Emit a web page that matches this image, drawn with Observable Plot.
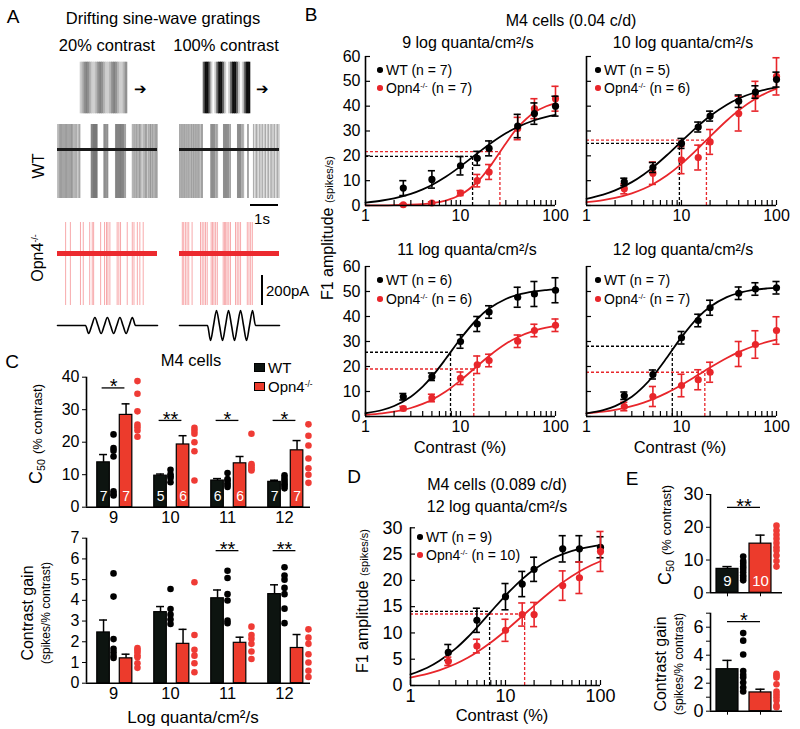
<!DOCTYPE html>
<html><head><meta charset="utf-8">
<script src="https://cdn.jsdelivr.net/npm/d3@7"></script>
<script src="https://cdn.jsdelivr.net/npm/@observablehq/plot@0.6"></script>
<style>
body{margin:0;background:#fff;}
#fig{position:relative;width:800px;height:729px;overflow:hidden;background:#fff;font-family:"Liberation Sans",Arial,Helvetica,sans-serif;color:#000;}
.abs{position:absolute;}
.t{position:absolute;white-space:nowrap;line-height:1;}
.sp{font-size:0.55em;vertical-align:0.6em;line-height:0;}
.sb{font-size:0.6em;vertical-align:-0.25em;line-height:0;}
</style></head>
<body><div id="fig"></div>
<script>
// ---------------- DATA ----------------
const contrasts = [2.5, 5, 10, 15, 20, 40, 60, 100];
const fitContrasts = [1, 1.5, 2, 3, 4, 5, 7, 10, 15, 20, 30, 40, 60, 80, 100];

// Panel B, 9 log quanta
const b9WtMean = [7, 10.5, 16, 19, 23, 32, 37, 40];
const b9WtSem = [3, 3.5, 3.7, 2.8, 3, 4.7, 4.3, 4];
const b9KoMean = [0.3, 1, 5, 10, 13.5, 31, 39, 43];
const b9KoSem = [0.3, 0.5, 1, 2.5, 3, 4.5, 4, 5];
const b9WtFit = [1.20, 2.01, 2.88, 4.69, 6.51, 8.28, 11.57, 15.76, 20.96, 24.57, 29.06, 31.63, 34.33, 35.69, 36.48];
const b9KoFit = [0.02, 0.06, 0.12, 0.30, 0.57, 0.95, 2.00, 4.30, 9.47, 15.2, 25.0, 31.36, 37.52, 39.98, 41.14];
// Panel B, 10 log quanta
const b10WtMean = [9.5, 15.3, 25, 31.6, 36, 42, 45.7, 50.7];
const b10WtSem = [1.5, 2, 2, 2, 2, 2.5, 2.5, 3];
const b10KoMean = [6.7, 13, 18.3, 19.3, 25.6, 37, 44, 52];
const b10KoSem = [2, 4.5, 5.5, 5, 5, 7, 6, 7.5];
const b10WtFit = [2.71, 4.38, 6.07, 9.40, 12.5, 15.34, 20.22, 25.83, 32.05, 36.02, 40.58, 43.07, 45.61, 46.87, 47.61];
const b10KoFit = [1.32, 2.16, 3.04, 4.89, 6.74, 8.58, 12.06, 16.75, 23.02, 27.77, 34.22, 38.31, 42.97, 45.50, 47.05];
// Panel B, 11 log quanta
const b11WtMean = [7.9, 15.9, 30, 37, 41.8, 47.7, 49, 50.5];
const b11WtSem = [1.3, 1.5, 2.7, 3, 2.5, 4, 5, 5];
const b11KoMean = [3.2, 7.4, 15.3, 20.7, 22.4, 30.1, 34.4, 36.5];
const b11KoSem = [0.8, 1.5, 2.5, 3.5, 2.5, 2.5, 2.5, 2.5];
const b11WtFit = [1.30, 2.60, 4.19, 7.92, 11.95, 15.93, 23.09, 31.11, 39.0, 43.16, 47.01, 48.67, 50.03, 50.57, 50.84];
const b11KoFit = [0.69, 1.26, 1.91, 3.40, 5.02, 6.69, 9.98, 14.44, 20.19, 24.22, 29.07, 31.71, 34.33, 35.54, 36.21];
// Panel B, 12 log quanta
const b12WtMean = [8.3, 16.8, 31.5, 38.4, 43.5, 49.3, 51, 51.5];
const b12WtSem = [1.5, 1.8, 2.5, 2.5, 3, 2.5, 2.5, 2.5];
const b12KoMean = [4, 8, 12.4, 14.7, 17.7, 25, 28.8, 34.4];
const b12KoSem = [1.7, 4, 4.5, 4, 4, 5, 5.5, 5.5];
const b12WtFit = [1.26, 2.54, 4.13, 7.90, 12.02, 16.11, 23.49, 31.73, 39.76, 43.94, 47.77, 49.40, 50.71, 51.23, 51.48];
const b12KoFit = [1.22, 1.94, 2.68, 4.16, 5.59, 6.95, 9.45, 12.63, 16.67, 19.58, 23.40, 25.75, 28.40, 29.84, 30.72];
// Panel D (0.089 c/d, 12 log)
const dWtMean = [6.3, 12.4, 16.9, 19.3, 22.1, 26, 26, 26.3];
const dWtSem = [1.5, 2.3, 2.5, 2.4, 2.3, 2.5, 2.5, 2];
const dKoMean = [4.6, 7.5, 10.5, 13.5, 13.5, 19, 20.5, 25.5];
const dKoSem = [0.8, 1.3, 2.1, 2.2, 2.3, 2.8, 3, 3.8];
const dWtFit = [2.10, 3.38, 4.65, 7.06, 9.18, 11.04, 14.01, 17.12, 20.25, 22.07, 24.01, 25.0, 25.97, 26.43, 26.69];
const dKoFit = [1.49, 2.20, 2.88, 4.14, 5.29, 6.34, 8.17, 10.42, 13.19, 15.20, 17.89, 19.62, 21.68, 22.87, 23.64];
// C50 markers (dashed lines) for panels [9, 10, 11, 12, D]
const c50Wt = [13.4, 9.5, 7.85, 8.0, 6.8];
const halfWt = [19.8, 25, 25.7, 28.1, 14.1];
const c50Ko = [26, 18.3, 13.8, 17.6, 15.9];
const halfKo = [21.7, 26.3, 19, 17.7, 13.6];
const nWtB = [7, 5, 6, 7, 9];
const nKoB = [7, 6, 6, 7, 10];

// Panel C
const lightLevels = [9, 10, 11, 12];
const c50WtMean = [13.8, 9.7, 8.2, 7.8];
const c50WtSem = [2.4, 0.5, 0.6, 0.5];
const c50KoMean = [28.4, 19.3, 13.5, 17.5];
const c50KoSem = [3.4, 2.7, 2.1, 3];
const c50WtCells = [[22.4, 18.2, 17.4, 15.6, 4.9, 4.1, 3.6], [11.5, 10.1, 9.5, 9.0, 7.7], [10.5, 8.7, 8.2, 7.4, 6.8, 6.2], [9.8, 9, 8.2, 7.5, 7, 6.5, 5.8]];
const c50KoCells = [[38.8, 34.9, 29.5, 25.4, 24.6, 23.6, 21.7], [24.4, 23.5, 22.6, 20, 17.2, 8.2], [22.6, 13.3, 12.8, 12.3, 11.7, 11.3], [25.5, 22, 19, 15, 12, 10, 7.5]];
const gainWtMean = [2.45, 3.43, 4.1, 4.3];
const gainWtSem = [0.6, 0.27, 0.4, 0.45];
const gainKoMean = [1.2, 1.9, 1.95, 1.7];
const gainKoSem = [0.2, 0.7, 0.27, 0.65];
const gainWtCells = [[5.3, 4.18, 2.13, 1.66, 1.5, 1.33, 1.22], [4.55, 3.58, 3.31, 3.07, 2.86], [5.43, 5.08, 4.3, 3.99, 3.02, 2.9], [5.6, 5.2, 5.0, 4.6, 4.3, 3.6, 2.9]];
const gainKoCells = [[1.7, 1.6, 1.5, 1.35, 1.25, 0.96, 0.74], [4.87, 2.33, 1.61, 1.33, 0.96, 0.53], [2.73, 2.33, 2.14, 1.9, 1.53, 1.17], [2.6, 2.2, 1.9, 1.4, 1.0, 0.6, 0.3]];
const nWtC = [7, 5, 6, 7];
const nKoC = [7, 6, 6, 7];
const c50Sig = ["*", "**", "*", "*"];
const c50SigY = [36.7, 26.7, 26.7, 26.7];
const gainSig = ["", "", "**", "**"];
const gainSigY = [6.4, 6.4, 6.4, 6.4];

// Panel E
const eGroups = [0, 1]; // WT, Opn4-/-
const eC50Mean = [7.3, 15];
const eC50Sem = [0.7, 2.6];
const eC50WtCells = [11.1, 9.7, 8.9, 8.0, 7.3, 6.3, 5.3, 4.6, 3.8];
const eC50KoCells = [20.5, 19, 17.7, 16.5, 15.2, 13.9, 12.9, 11.4, 9.7, 8.0];
const eGainMean = [3.0, 1.34];
const eGainSem = [0.63, 0.23];
const eGainWtCells = [5.58, 5.04, 4.05, 2.87, 2.6, 2.4, 2.05, 1.69, 1.41];
const eGainKoCells = [2.68, 2.55, 2.4, 1.93, 1.41, 1.2, 0.99, 0.76, 0.40, 0.28];
const eN = [9, 10];

// Panel A: spike times (s), stimulus and grating luminance
const wt20Spikes = [0.01,0.05,0.08,0.11,0.14,0.17,0.2,0.23,0.26,0.29,0.32,0.35,0.38,0.41,0.44,0.47,0.5,0.53,0.56,0.6,0.64,0.68,0.73,0.77,0.8,1.2,1.22,1.24,1.26,1.28,1.3,1.31,1.33,1.35,1.37,1.38,1.4,1.42,1.65,1.68,1.7,1.72,1.75,1.78,1.8,2.07,2.09,2.11,2.13,2.15,2.17,2.19,2.21,2.23,2.25,2.27,2.29,2.31,2.33,2.35,2.37,2.4,2.43,2.67,2.71,2.75,2.79,2.82,2.86,2.9,2.93,2.96,3.01,3.06,3.1,3.14,3.17,3.2,3.25,3.29,3.32,3.35,3.39,3.42,3.46,3.5,3.53,3.56];
const wt100Spikes = [0,0.04,0.07,0.11,0.14,0.18,0.21,0.25,0.29,0.32,0.36,0.4,0.43,0.47,0.5,0.54,0.57,0.61,0.64,0.68,0.71,0.76,0.79,0.82,1.11,1.14,1.16,1.18,1.21,1.23,1.25,1.29,1.32,1.36,1.57,1.59,1.61,1.64,1.66,1.68,1.71,1.73,1.75,1.79,1.82,2.07,2.09,2.11,2.14,2.16,2.18,2.21,2.25,2.29,2.43,2.46,2.64,2.7,2.75,2.8,2.86,2.91,2.96,3.02,3.07,3.13,3.18,3.24,3.29,3.34,3.39,3.45,3.5,3.55];
const ko20Spikes = [0.29,0.46,0.82,0.92,1.15,1.24,1.29,1.54,1.68,1.75,1.8,1.87,2.13,2.19,2.25,2.49,2.67,2.73,2.85,2.94,3.06];
const ko100Spikes = [0.1,0.15,0.21,0.27,0.33,0.45,0.75,0.81,0.87,0.93,0.99,1.13,1.18,1.23,1.29,1.35,1.56,1.61,1.65,1.7,1.76,1.82,2.0,2.06,2.12,2.18,2.42,2.48,2.54,2.6];
const stim20T = [0,1.0,1.112,1.223,1.335,1.446,1.558,1.67,1.781,1.893,2.004,2.116,2.228,2.339,2.451,2.562,2.674,2.786,3.57];
const stim20V = [0,0,-8,0,8,0,-8,0,8,0,-8,0,8,0,-8,0,8,0,0];
const stim100T = [0,1.0,1.107,1.214,1.321,1.429,1.536,1.643,1.75,1.857,1.964,2.071,2.179,2.286,2.393,2.5,2.607,2.714,3.57];
const stim100V = [0,0,-15,0,15,0,-15,0,15,0,-15,0,15,0,-15,0,15,0,0];
const grating20 = [206,179,145,130,145,179,206,206,179,145,130,145,179,206,206,179,145,130,145,179,206,206,179,145];
const grating100 = [100,15,15,100,205,253,205,100,15,15,100,205,253,205,100,15,15,100,205,253,205,100,15,15];

// ---------------- DRAWING ----------------
const RED = "#e8262b";
const BARRED = "#ec3b2c";
const BARBLK = "#0d1410";
const FONT = '"Liberation Sans", Arial, Helvetica, sans-serif';
const fig = document.getElementById("fig");
const baseStyle = {fontFamily: FONT, fontSize: "16px", overflow: "visible", background: "none", color: "#000"};

function put(node, left, top) {
  const d = document.createElement("div");
  d.className = "abs";
  d.style.left = left + "px"; d.style.top = top + "px";
  d.appendChild(node); fig.appendChild(d);
}
function text(html, x, y, size, {anchor = "middle", rotate = false, color = "#000", align = "center", lh = 1, weight = "normal"} = {}) {
  const d = document.createElement("div");
  d.className = "t";
  d.innerHTML = html;
  d.style.left = x + "px"; d.style.top = y + "px"; d.style.fontSize = size + "px"; d.style.color = color;
  d.style.textAlign = align; d.style.lineHeight = lh; d.style.fontWeight = weight;
  let tf = anchor === "middle" ? "translate(-50%,-50%)" : anchor === "start" ? "translate(0,-50%)" : "translate(-100%,-50%)";
  if (rotate) tf += " rotate(-90deg)";
  d.style.transform = tf;
  fig.appendChild(d);
}
function dotEl(x, y, r, color) {
  const d = document.createElement("div");
  Object.assign(d.style, {position: "absolute", left: (x - r) + "px", top: (y - r) + "px", width: 2 * r + "px", height: 2 * r + "px", borderRadius: "50%", background: color});
  fig.appendChild(d);
}

// ---- contrast response panels (B, D)
function contrastPlot(o) {
  const plotW = o.width - o.ml - o.mr, plotH = o.height - o.mt - o.mb;
  const minor = [1,2,3,4,5,6,7,8,9,10,20,30,40,50,60,70,80,90,100];
  const series = (mean, sem, fit, color) => [
    Plot.line(fitContrasts, {x: d => d, y: (d, i) => fit[i], stroke: color, strokeWidth: 1.8, curve: "catmull-rom"}),
    Plot.ruleX(contrasts, {x: d => d, y1: (d, i) => Math.max(0, mean[i] - sem[i]), y2: (d, i) => mean[i] + sem[i], stroke: color, strokeWidth: 1.6}),
    Plot.ruleY(contrasts, {y: (d, i) => mean[i] + sem[i], x1: d => d / 1.09, x2: d => d * 1.09, stroke: color, strokeWidth: 1.6}),
    Plot.ruleY(contrasts, {filter: (d, i) => mean[i] - sem[i] > 0.3, y: (d, i) => mean[i] - sem[i], x1: d => d / 1.09, x2: d => d * 1.09, stroke: color, strokeWidth: 1.6}),
    Plot.dot(contrasts, {x: d => d, y: (d, i) => mean[i], r: 3.6, fill: color, stroke: null})
  ];
  const dash = (c50, half, color) => [
    Plot.ruleY([half], {y: d => d, x1: () => 1, x2: () => c50, stroke: color, strokeWidth: 1.3, strokeDasharray: "3,2"}),
    Plot.ruleX([c50], {x: d => d, y1: () => 0, y2: () => half, stroke: color, strokeWidth: 1.3, strokeDasharray: "3,2"})
  ];
  const wt = series(o.wtMean, o.wtSem, o.wtFit, "#000");
  const ko = series(o.koMean, o.koSem, o.koFit, RED);
  const marks = [
    ...dash(o.c50W, o.halfW, "#000"),
    ...dash(o.c50K, o.halfK, RED),
    ...(o.koOnTop ? [...wt, ...ko] : [...ko, ...wt]),
    Plot.tickX(minor, {x: d => d, insetTop: plotH - 5, stroke: "#000", strokeWidth: 1.2}),
    Plot.tickY(o.yTicks, {y: d => d, insetRight: plotW - 5, stroke: "#000", strokeWidth: 1.2}),
    Plot.ruleX([1], {stroke: "#000", strokeWidth: 1.6}),
    Plot.ruleY([0], {stroke: "#000", strokeWidth: 1.6}),
    Plot.axisX({ticks: [1, 10, 100], tickFormat: d => String(d), tickSize: 0, tickPadding: 4, fontSize: o.tickFont, label: null})
  ];
  if (o.yLabels) marks.push(Plot.axisY({ticks: o.yTicks, tickFormat: d => String(d), tickSize: 0, tickPadding: o.yPad, fontSize: o.tickFont, label: null}));
  const p = Plot.plot({
    width: o.width, height: o.height, marginLeft: o.ml, marginRight: o.mr, marginTop: o.mt, marginBottom: o.mb,
    x: {type: "log", domain: [1, 100]},
    y: {domain: [0, o.yMax], axis: o.yLabels ? undefined : null},
    style: baseStyle,
    marks
  });
  put(p, o.left, o.top);
}
const yT60 = [0, 10, 20, 30, 40, 50, 60];
contrastPlot({left: 330, top: 45, width: 235, height: 185, ml: 35, mr: 10, mt: 11, mb: 25, yMax: 60, yTicks: yT60, yLabels: true, yPad: 5, tickFont: 16,
  wtMean: b9WtMean, wtSem: b9WtSem, koMean: b9KoMean, koSem: b9KoSem, wtFit: b9WtFit, koFit: b9KoFit,
  c50W: c50Wt[0], halfW: halfWt[0], c50K: c50Ko[0], halfK: halfKo[0]});
contrastPlot({left: 556, top: 45, width: 230, height: 185, ml: 30, mr: 10, mt: 11, mb: 25, yMax: 60, yTicks: yT60, yLabels: false, tickFont: 16,
  wtMean: b10WtMean, wtSem: b10WtSem, koMean: b10KoMean, koSem: b10KoSem, wtFit: b10WtFit, koFit: b10KoFit,
  c50W: c50Wt[1], halfW: halfWt[1], c50K: c50Ko[1], halfK: halfKo[1]});
contrastPlot({left: 330, top: 255, width: 235, height: 185, ml: 35, mr: 10, mt: 11, mb: 24, yMax: 60, yTicks: yT60, yLabels: true, yPad: 5, tickFont: 16,
  wtMean: b11WtMean, wtSem: b11WtSem, koMean: b11KoMean, koSem: b11KoSem, wtFit: b11WtFit, koFit: b11KoFit,
  c50W: c50Wt[2], halfW: halfWt[2], c50K: c50Ko[2], halfK: halfKo[2]});
contrastPlot({left: 556, top: 255, width: 230, height: 185, ml: 30, mr: 10, mt: 11, mb: 24, yMax: 60, yTicks: yT60, yLabels: false, tickFont: 16,
  wtMean: b12WtMean, wtSem: b12WtSem, koMean: b12KoMean, koSem: b12KoSem, wtFit: b12WtFit, koFit: b12KoFit,
  c50W: c50Wt[3], halfW: halfWt[3], c50K: c50Ko[3], halfK: halfKo[3]});
contrastPlot({left: 370, top: 520, width: 240, height: 185, ml: 40, mr: 10, mt: 7.3, mb: 20, yMax: 30, yTicks: [0, 5, 10, 15, 20, 25, 30], yLabels: true, yPad: 8, tickFont: 18, koOnTop: true,
  wtMean: dWtMean, wtSem: dWtSem, koMean: dKoMean, koSem: dKoSem, wtFit: dWtFit, koFit: dKoFit,
  c50W: c50Wt[4], halfW: halfWt[4], c50K: c50Ko[4], halfK: halfKo[4]});

// ---- bar panels (C)
const WT_OFF = -0.175, KO_OFF = 0.22, HALF_W = 0.11, KO_DOT = 0.42;
function cellTable(cells, offset) {
  return cells.flatMap((vals, i) => vals.map(v => ({x: lightLevels[i] + offset, y: v})));
}
function barPlot(o) {
  const marks = [
    Plot.rect(lightLevels, {x1: d => d + WT_OFF - HALF_W, x2: d => d + WT_OFF + HALF_W, y1: () => 0, y2: (d, i) => o.wtMean[i], fill: BARBLK, stroke: "#000", strokeWidth: 1.2}),
    Plot.rect(lightLevels, {x1: d => d + KO_OFF - HALF_W, x2: d => d + KO_OFF + HALF_W, y1: () => 0, y2: (d, i) => o.koMean[i], fill: BARRED, stroke: "#000", strokeWidth: 1.2}),
    Plot.ruleX(lightLevels, {x: d => d + WT_OFF, y1: (d, i) => o.wtMean[i], y2: (d, i) => o.wtMean[i] + o.wtSem[i], stroke: "#000", strokeWidth: 1.5}),
    Plot.ruleY(lightLevels, {y: (d, i) => o.wtMean[i] + o.wtSem[i], x1: d => d + WT_OFF - 0.07, x2: d => d + WT_OFF + 0.07, stroke: "#000", strokeWidth: 1.5}),
    Plot.ruleX(lightLevels, {x: d => d + KO_OFF, y1: (d, i) => o.koMean[i], y2: (d, i) => o.koMean[i] + o.koSem[i], stroke: "#000", strokeWidth: 1.5}),
    Plot.ruleY(lightLevels, {y: (d, i) => o.koMean[i] + o.koSem[i], x1: d => d + KO_OFF - 0.07, x2: d => d + KO_OFF + 0.07, stroke: "#000", strokeWidth: 1.5}),
    Plot.dot(cellTable(o.wtCells, 0), {x: "x", y: "y", r: 3.3, fill: "#000", stroke: null}),
    Plot.dot(cellTable(o.koCells, KO_DOT), {x: "x", y: "y", r: 3.3, fill: "#ef3b35", stroke: null}),
    Plot.ruleY(lightLevels, {filter: (d, i) => o.sig[i] !== "", y: (d, i) => o.sigY[i], x1: d => d - 0.2, x2: d => d + 0.2, stroke: "#000", strokeWidth: 1.3}),
    Plot.text(lightLevels, {filter: (d, i) => o.sig[i] !== "", x: d => d, y: (d, i) => o.sigY[i], text: (d, i) => o.sig[i], dy: -1, fontSize: 20}),
    Plot.ruleX([8.526], {stroke: "#000", strokeWidth: 1.6}),
    Plot.ruleY([0], {stroke: "#000", strokeWidth: 1.6}),
    Plot.axisX({ticks: lightLevels, tickFormat: d => String(d), tickSize: 0, tickPadding: 4, fontSize: 16.5, label: null}),
    Plot.axisY({ticks: o.yTicks, tickFormat: d => String(d), tickSize: 4, tickPadding: 3, fontSize: 16, label: null})
  ];
  if (o.nWt) {
    marks.push(Plot.text(lightLevels, {x: d => d + WT_OFF, y: () => 0, dy: -11, text: (d, i) => String(o.nWt[i]), fill: "#fff", fontSize: 14}));
    marks.push(Plot.text(lightLevels, {x: d => d + KO_OFF, y: () => 0, dy: -11, text: (d, i) => String(o.nKo[i]), fill: "#fff", fontSize: 14}));
  }
  const p = Plot.plot({
    width: o.width, height: o.height, marginLeft: o.ml, marginRight: o.mr, marginTop: o.mt, marginBottom: o.mb,
    x: {domain: [8.526, 12.456]}, y: {domain: o.yDomain},
    style: baseStyle, marks
  });
  put(p, o.left, o.top);
}
barPlot({left: 40, top: 370, width: 280, height: 160, ml: 46, mr: 10, mt: 6.7, mb: 23.3, yDomain: [0, 40], yTicks: [0, 10, 20, 30, 40],
  wtMean: c50WtMean, wtSem: c50WtSem, koMean: c50KoMean, koSem: c50KoSem, wtCells: c50WtCells, koCells: c50KoCells,
  sig: c50Sig, sigY: c50SigY, nWt: nWtC, nKo: nKoC});
barPlot({left: 40, top: 530, width: 280, height: 175, ml: 46, mr: 10, mt: 7.7, mb: 22.3, yDomain: [0, 7], yTicks: [0, 1, 2, 3, 4, 5, 6, 7],
  wtMean: gainWtMean, wtSem: gainWtSem, koMean: gainKoMean, koSem: gainKoSem, wtCells: gainWtCells, koCells: gainKoCells,
  sig: gainSig, sigY: gainSigY});

// ---- bar panels (E)
function ePlot(o) {
  const hw = 0.333;
  const marks = [
    Plot.rect(eGroups, {x1: d => d - hw, x2: d => d + hw, y1: () => 0, y2: (d, i) => o.mean[i], fill: (d, i) => i === 0 ? BARBLK : BARRED, stroke: "#000", strokeWidth: 1.2}),
    Plot.ruleX(eGroups, {x: d => d, y1: (d, i) => o.mean[i], y2: (d, i) => o.mean[i] + o.sem[i], stroke: "#000", strokeWidth: 1.5}),
    Plot.ruleY(eGroups, {y: (d, i) => o.mean[i] + o.sem[i], x1: d => d - 0.14, x2: d => d + 0.14, stroke: "#000", strokeWidth: 1.5}),
    Plot.dot(o.wtCells, {x: () => 0.476, y: d => d, r: 3.3, fill: "#000", stroke: null}),
    Plot.dot(o.koCells, {x: () => 1.485, y: d => d, r: 3.3, fill: "#ef3b35", stroke: null}),
    Plot.ruleY([o.sigY], {y: d => d, x1: () => 0, x2: () => 1, stroke: "#000", strokeWidth: 1.3}),
    Plot.text([o.sig], {x: () => 0.5, y: () => o.sigY, text: d => d, dy: -1, fontSize: 20}),
    Plot.ruleX([-0.515], {stroke: "#000", strokeWidth: 1.6}),
    Plot.ruleY([0], {stroke: "#000", strokeWidth: 1.6}),
    Plot.axisX({ticks: eGroups, tickFormat: () => "", tickSize: 4, label: null}),
    Plot.axisY({ticks: o.yLabelTicks, tickFormat: d => String(d), tickSize: 4, tickPadding: 3, fontSize: 18, label: null})
  ];
  if (o.minorTicks) marks.push(Plot.axisY({ticks: o.minorTicks, tickFormat: () => "", tickSize: 4, label: null}));
  if (o.n) marks.push(Plot.text(eGroups, {x: d => d, y: () => 0, dy: -12, text: (d, i) => String(o.n[i]), fill: "#fff", fontSize: 15}));
  const p = Plot.plot({
    width: o.width, height: o.height, marginLeft: o.ml, marginRight: o.mr, marginTop: o.mt, marginBottom: o.mb,
    x: {domain: [-0.515, 1.667]}, y: {domain: o.yDomain},
    style: baseStyle, marks
  });
  put(p, o.left, o.top);
}
ePlot({left: 690, top: 488, width: 100, height: 120, ml: 20, mr: 8, mt: 6, mb: 15.7, yDomain: [0, 30], yLabelTicks: [0, 10, 20, 30],
  mean: eC50Mean, sem: eC50Sem, wtCells: eC50WtCells, koCells: eC50KoCells, sig: "**", sigY: 26.1, n: eN});
ePlot({left: 690, top: 605, width: 100, height: 115, ml: 20, mr: 8, mt: 7.7, mb: 9.3, yDomain: [0, 7], yLabelTicks: [0, 2, 4, 6], minorTicks: [1, 3, 5, 7],
  mean: eGainMean, sem: eGainSem, wtCells: eGainWtCells, koCells: eGainKoCells, sig: "*", sigY: 6.4});

// ---- Panel A
function gratingPlot(vals, left, top) {
  const p = Plot.plot({
    width: 47, height: 51, margin: 0,
    x: {domain: [0, vals.length], axis: null}, y: {domain: [0, 1], axis: null}, color: {type: "identity"},
    style: {overflow: "visible", background: "none"},
    marks: [Plot.rect(vals, {x1: (d, i) => i, x2: (d, i) => i + 1, y1: () => 0, y2: () => 1, fill: d => `rgb(${d},${d},${d})`, stroke: d => `rgb(${d},${d},${d})`, strokeWidth: 0.6})]
  });
  put(p, left, top);
}
gratingPlot(grating20, 80, 62);
gratingPlot(grating100, 203, 62);

function tracePlot(spikes, left, top, height, lo, hi, color, opacity, baseW) {
  const p = Plot.plot({
    width: 100, height, margin: 0,
    x: {domain: [0, 3.57], axis: null}, y: {domain: [lo, hi], axis: null},
    style: {overflow: "visible", background: "none"},
    marks: [
      Plot.ruleX(spikes, {x: d => d, y1: () => lo + 1, y2: () => hi - 1, stroke: color, strokeOpacity: opacity, strokeWidth: 0.9}),
      Plot.ruleY([0], {stroke: color, strokeWidth: baseW})
    ]
  });
  put(p, left, top);
}
tracePlot(wt20Spikes, 57, 123, 76, -50, 26, "#1a1a1a", 0.42, 3);
tracePlot(wt100Spikes, 179, 123, 76, -50, 26, "#1a1a1a", 0.42, 3);
tracePlot(ko20Spikes, 57, 221, 85, -53, 32, "#ec2a2f", 0.45, 5);
tracePlot(ko100Spikes, 179, 221, 85, -53, 32, "#ec2a2f", 0.45, 5);

function stimPlot(ts, vs, left) {
  const p = Plot.plot({
    width: 100, height: 34, margin: 0,
    x: {domain: [0, 3.57], axis: null}, y: {domain: [-17, 17], axis: null},
    style: {overflow: "visible", background: "none"},
    marks: [Plot.line(ts, {x: d => d, y: (d, i) => vs[i], stroke: "#000", strokeWidth: 1.6, curve: "monotone-x"})]
  });
  put(p, left, 308);
}
stimPlot(stim20T, stim20V, 57);
stimPlot(stim100T, stim100V, 179);

// scale bars
(function () {
  const h = document.createElement("div");
  Object.assign(h.style, {position: "absolute", left: "250px", top: "204px", width: "28px", height: "0", borderTop: "2px solid #000"});
  fig.appendChild(h);
  const v = document.createElement("div");
  Object.assign(v.style, {position: "absolute", left: "261px", top: "275px", width: "0", height: "30px", borderLeft: "2px solid #000"});
  fig.appendChild(v);
})();

// ---------------- TEXT ----------------
const SUP = '<span class="sp">-/-</span>';
text("A", 13, 16, 19);
text("Drifting sine-wave gratings", 163, 18, 16.5);
text("20% contrast", 107, 45, 16.5);
text("100% contrast", 226, 45, 16.5);
text("➔", 140, 88, 15);
text("➔", 262, 88, 15);
text("WT", 39, 166, 16, {rotate: true});
text("Opn4" + SUP, 38, 258, 16, {rotate: true});
text("1s", 262, 218, 15);
text("200pA", 266, 290, 15, {anchor: "start"});

text("B", 311, 14, 19);
text("M4 cells (0.04 c/d)", 571, 21, 16);
text("9 log quanta/cm²/s", 468, 43, 16);
text("10 log quanta/cm²/s", 683, 43, 16);
text("11 log quanta/cm²/s", 467, 250, 16);
text("12 log quanta/cm²/s", 683, 250, 16);
text("Contrast (%)", 460, 447, 16.5);
text("Contrast (%)", 680, 447, 16.5);
text('F1 amplitude <span style="font-size:11px">(spikes/s)</span>', 328, 228, 16, {rotate: true});

// B & D legends
const legendPos = [[380, 70, 88], [598, 70, 88], [380, 280, 299], [598, 280, 299], [420, 537, 555]];
legendPos.forEach(([x, y1, y2], k) => {
  dotEl(x, y1, 2.8, "#000");
  dotEl(x, y2, 2.8, RED);
  text(`WT (n = ${nWtB[k]})`, x + 6, y1, 14, {anchor: "start"});
  text(`Opn4<span class="sp">-/-</span> (n = ${nKoB[k]})`, x + 6, y2, 14, {anchor: "start"});
});

text("C", 12, 361, 19);
text("M4 cells", 191, 360, 16.5);
(function () {
  const a = document.createElement("div");
  Object.assign(a.style, {position: "absolute", left: "254px", top: "363px", width: "9px", height: "7px", background: BARBLK, border: "1px solid #000"});
  fig.appendChild(a);
  const b = document.createElement("div");
  Object.assign(b.style, {position: "absolute", left: "254px", top: "382px", width: "9px", height: "7px", background: BARRED, border: "1px solid #000"});
  fig.appendChild(b);
})();
text("WT", 268, 367, 15, {anchor: "start"});
text("Opn4" + SUP, 268, 386, 15, {anchor: "start"});
text('C<span class="sb">50</span> <span style="font-size:13px">(% contrast)</span>', 36, 434, 18, {rotate: true});
text('Contrast gain<br><span style="font-size:12px">(spikes/% contrast)</span>', 37, 613, 16, {rotate: true, lh: 1.05});
text("Log quanta/cm²/s", 193, 717, 17);

text("D", 354, 476, 19);
text("M4 cells (0.089 c/d)", 497, 485, 16);
text("12 log quanta/cm²/s", 497, 507, 16);
text('F1 amplitude <span style="font-size:11px">(spikes/s)</span>', 363, 601, 16, {rotate: true});
text("Contrast (%)", 502, 715, 16.5);

text("E", 632, 478, 19);
text('C<span class="sb">50</span> <span style="font-size:13px">(% contrast)</span>', 665, 535, 18, {rotate: true});
text('Contrast gain<br><span style="font-size:12px">(spikes/% contrast)</span>', 670, 664, 16, {rotate: true, lh: 1.05});
</script>
</body></html>
